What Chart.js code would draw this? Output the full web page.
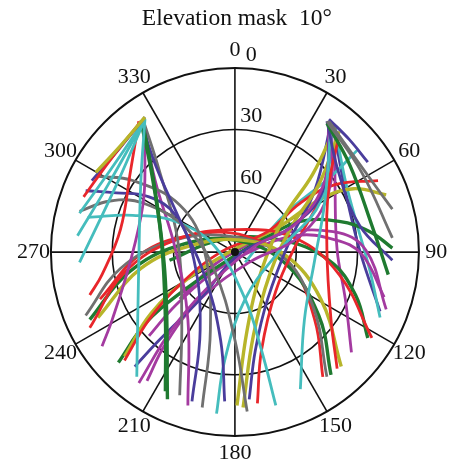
<!DOCTYPE html>
<html>
<head>
<meta charset="utf-8">
<script src="https://cdn.jsdelivr.net/npm/chart.js@4"></script>
<style>
  html, body { margin: 0; padding: 0; background: #fff; }
  canvas { display: block; }
</style>
</head>
<body>
<canvas id="sky" width="450" height="467"></canvas>
<script>
// Skyplot: points are [east, north] in degrees of zenith distance (90 = horizon)
const TITLE = 'Elevation mask  10\u00b0';
const azLabels = [0, 30, 60, 90, 120, 150, 180, 210, 240, 270, 300, 330];
const elevRings = [0, 30, 60];

const COL = {
  R: '#e8262b', C: '#45bdbd', G: '#1f7a30', K: '#707070',
  M: '#a43aa0', B: '#4a3d9c', Y: '#b7b52a'
};

const trackColor = [
  'Y','R','B','C','C','C','C','G','G','M','R','B','K','K','B','C','M','K',
  'K','K','B','G','B','C','R','M','B','M','C','Y','Y','R','B',
  'R','Y','K','G','R','R','Y','G','M','M','G','C','C','M','B'
];

const trackPts = [
  // rising in the north-west
  [[-44,66],[-56,52],[-68,39]],
  [[-46,64],[-61,45],[-74,27]],
  [[-44,66],[-57,50],[-70,35]],
  [[-44,65],[-61,40],[-76,19]],
  [[-44,65],[-62,33],[-77,8]],
  [[-44,65],[-57,35],[-76,-5]],
  [[-44,65],[-46,35],[-47,-4],[-48,-61]],
  [[-46,64],[-41,40],[-36,6],[-34,-33],[-34,-68]],
  [[-45,63],[-39,30],[-34,-14],[-33,-72]],
  [[-45,65],[-44,43],[-45,23],[-51,-4],[-60,-33],[-65,-46]],
  [[-47,64],[-51,40],[-56,11],[-65,-11],[-71,-21]],
  [[-46,64],[-39,43],[-28,18],[-15,-11],[-7,-43],[-5,-73]],
  [[-76,20],[-61,25],[-45,24],[-23,11],[-10,-9],[0,-43],[6,-78]],
  [[-67,37],[-50,35],[-27,23],[-15,1],[-12,-38],[-16,-76]],
  [[-73,30],[-58,29],[-42,27],[-29,18],[-20,-4],[-17,-38],[-21,-73]],
  [[-72,17],[-50,18],[-29,15],[-10,3],[5,-23],[13,-48],[20,-75]],
  [[-45,64],[-39,35],[-29,1],[-23,-33],[-23,-75]],
  [[-45,65],[-37,40],[-28,6],[-26,-33],[-27,-70]],
  // rising in the north-east
  [[46,64],[61,43],[77,21]],
  [[45,64],[62,39],[77,7]],
  [[46,65],[56,55],[65,44]],
  [[45,63],[56,43],[67,13],[75,-11]],
  [[45,64],[51,38],[61,13],[77,-4]],
  [[47,63],[44,25],[39,-4],[34,-33],[32,-67]],
  [[51,57],[46,33],[45,1],[47,-33],[50,-57]],
  [[46,64],[44,35],[30,14],[10,3],[-10,-14],[-31,-38],[-47,-64]],
  [[46,64],[43,30],[27,12],[2,-1],[-17,-23],[-37,-43],[-49,-56]],
  [[47,62],[46,30],[32,8],[7,-5],[-17,-23],[-34,-45],[-43,-63]],
  [[48,61],[42,25],[22,1],[5,-23],[-5,-53],[-9,-79]],
  [[49,61],[38,38],[24,17],[13,-9],[6,-38],[1,-75]],
  [[51,59],[41,33],[28,13],[17,-11],[9,-41],[4,-76]],
  [[48,62],[43,30],[31,6],[20,-19],[13,-48],[11,-74]],
  [[47,63],[39,30],[27,6],[16,-23],[10,-48],[7,-72]],
  // west to east arcs
  [[-71,-37],[-54,-10],[-29,6],[0,11],[29,7],[51,-11],[67,-42]],
  [[-67,-32],[-46,-8],[-22,3],[2,6],[24,-1],[42,-23],[52,-56]],
  [[-73,-31],[-56,-8],[-32,5],[-5,8],[22,-1],[38,-26],[45,-61]],
  [[-71,-33],[-52,-10],[-28,3],[-1,6],[24,-5],[41,-31],[47,-60]],
  [[-66,-23],[-46,-1],[-22,8],[5,8],[27,-6],[39,-33],[43,-61]],
  [[-54,-53],[-42,-33],[-27,-16],[-7,0],[16,10],[32,24],[49,33],[70,35]],
  [[-54,-51],[-41,-30],[-23,-13],[-1,1],[21,12],[42,26],[58,31],[74,28]],
  [[-57,-54],[-43,-34],[-24,-18],[-2,-3],[15,7],[32,15],[51,15],[66,10],[77,2]],
  [[-42,-41],[-29,-26],[-12,-11],[5,-1],[29,8],[49,6],[62,-1],[73,-22]],
  [[-27,-23],[-7,-4],[19,8],[48,10],[64,1],[74,-28]],
  [[-32,-4],[-7,6],[22,6],[46,-4],[59,-21],[65,-42]],
  [[49,61],[54,35],[59,16],[66,-9],[71,-32]],
  [[5,-5],[24,18],[47,37],[60,50]],
  [[49,61],[49,30],[50,1],[54,-23],[57,-49]],
  [[48,62],[54,30],[61,1],[71,-29]]
];

const FONT = '"Liberation Serif", "Times New Roman", serif';

const skyGrid = {
  id: 'skyGrid',
  beforeDatasetsDraw(chart) {
    const { ctx, scales: { x, y } } = chart;
    const cx = x.getPixelForValue(0), cy = y.getPixelForValue(0);
    ctx.save();
    ctx.strokeStyle = '#111';
    elevRings.forEach(el => {
      const r = x.getPixelForValue(90 - el) - cx;
      ctx.lineWidth = el === 0 ? 2 : 1.6;
      ctx.beginPath();
      ctx.arc(cx, cy, r, 0, Math.PI * 2);
      ctx.stroke();
    });
    ctx.lineWidth = 1.6;
    azLabels.forEach(az => {
      const a = az * Math.PI / 180;
      ctx.beginPath();
      ctx.moveTo(cx, cy);
      ctx.lineTo(x.getPixelForValue(90 * Math.sin(a)), y.getPixelForValue(90 * Math.cos(a)));
      ctx.stroke();
    });
    ctx.restore();
  },
  afterDatasetsDraw(chart) {
    const { ctx, scales: { x, y } } = chart;
    const cx = x.getPixelForValue(0), cy = y.getPixelForValue(0);
    ctx.save();
    ctx.fillStyle = '#111';
    ctx.beginPath();
    ctx.arc(cx, cy, 4, 0, Math.PI * 2);
    ctx.fill();

    ctx.font = '22px ' + FONT;
    ctx.textAlign = 'center';
    ctx.textBaseline = 'middle';
    azLabels.forEach(az => {
      const a = az * Math.PI / 180;
      ctx.fillText(String(az), x.getPixelForValue(98.5 * Math.sin(a)), y.getPixelForValue(98.5 * Math.cos(a)));
    });
    elevRings.forEach(el => {
      ctx.fillText(String(el), x.getPixelForValue(8), y.getPixelForValue(90 - el + 6.3));
    });
    ctx.font = '23.5px ' + FONT;
    ctx.fillText(TITLE, cx + 2, 19);
    ctx.restore();
  }
};

new Chart(document.getElementById('sky'), {
  type: 'scatter',
  data: {
    datasets: trackPts.map((pts, i) => ({
      data: pts.map(p => ({ x: p[0], y: p[1] })),
      showLine: true,
      borderColor: COL[trackColor[i]],
      borderWidth: trackColor[i] === 'Y' || trackColor[i] === 'G' ? 3.4 : 2.8,
      borderCapStyle: 'butt',
      pointRadius: 0,
      tension: 0.4,
      fill: false
    }))
  },
  options: {
    responsive: false,
    animation: false,
    devicePixelRatio: 1,
    layout: { padding: 0 },
    plugins: { legend: { display: false }, tooltip: { enabled: false } },
    scales: {
      x: { type: 'linear', min: -114.9, max: 105.2, display: false },
      y: { type: 'linear', min: -105.1, max: 123.3, display: false }
    }
  },
  plugins: [skyGrid]
});
</script>
</body>
</html>
